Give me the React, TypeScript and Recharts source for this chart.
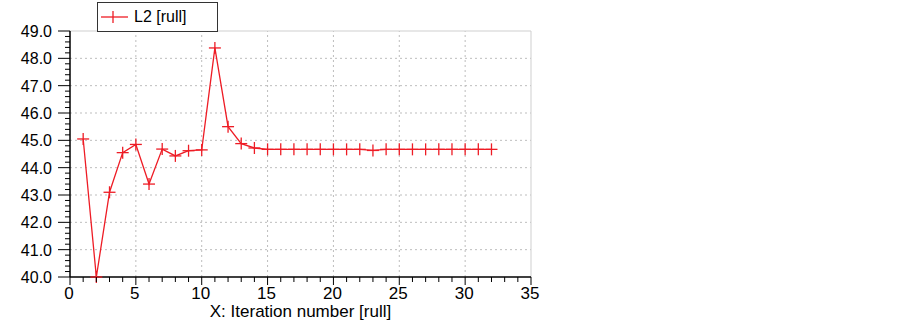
import React from 'react';
import { LineChart, Line, XAxis, YAxis, ReferenceLine } from 'recharts';

const iterations = [1,2,3,4,5,6,7,8,9,10,11,12,13,14,15,16,17,18,19,20,21,22,23,24,25,26,27,28,29,30,31,32];
const l2Values = [45.05,40.0,43.1,44.55,44.85,43.4,44.68,44.43,44.62,44.65,48.38,45.5,44.88,44.72,44.67,44.67,44.67,44.67,44.67,44.67,44.67,44.67,44.63,44.67,44.67,44.67,44.67,44.67,44.67,44.67,44.67,44.67];

const xMajorTicks = [0,5,10,15,20,25,30,35];
const yMajorTicks = [40,41,42,43,44,45,46,47,48,49];
const xGridValues = [5,10,15,20,25,30];
const yGridValues = [41,42,43,44,45,46,47,48];
const seriesName = 'L2 [rull]';
const xTitle = 'X: Iteration number [rull]';

const xMinorTicks = Array.from({ length: 36 }, (_, i) => i);
const yMinorTicks = Array.from({ length: 46 }, (_, i) => Math.round((40 + i * 0.2) * 10) / 10);

const data = iterations.map((it, i) => ({ it, l2: l2Values[i] }));

const FONT = 'Liberation Sans, Arial, sans-serif';
const RED = '#ee1c25';

const isMajor = (v: number, list: number[]) => list.some((m) => Math.abs(m - v) < 1e-6);

const XTick = (props: any) => {
  const { x, y, payload } = props;
  const major = isMajor(payload.value, xMajorTicks);
  return (
    <g>
      <line x1={x} x2={x} y1={y} y2={y + (major ? 8 : 5)} stroke="#000" strokeWidth={1} />
      {major && (
        <text x={x - 1} y={y + 22} textAnchor="middle" fontSize={17} fontFamily={FONT} fill="#000">
          {payload.value}
        </text>
      )}
    </g>
  );
};

const YTick = (props: any) => {
  const { x, y, payload } = props;
  const major = isMajor(payload.value, yMajorTicks);
  return (
    <g>
      <line x1={x} x2={x - (major ? 12 : 5)} y1={y} y2={y} stroke="#000" strokeWidth={1} />
      {major && (
        <text x={x - 18} y={y + 6} textAnchor="end" fontSize={16} fontFamily={FONT} fill="#000">
          {Number(payload.value).toFixed(1)}
        </text>
      )}
    </g>
  );
};

const XTitle = (props: any) => {
  const { viewBox } = props;
  const cx = viewBox.x + viewBox.width / 2;
  return (
    <text x={cx} y={317} textAnchor="middle" fontSize={17} fontFamily={FONT} fill="#000">
      {xTitle}
    </text>
  );
};

const PlusDot = (props: any) => {
  const { cx, cy } = props;
  if (cx == null || cy == null) return null;
  return (
    <g>
      <line x1={cx - 6} x2={cx + 6} y1={cy} y2={cy} stroke={RED} strokeWidth={1.3} />
      <line x1={cx} x2={cx} y1={cy - 6} y2={cy + 6} stroke={RED} strokeWidth={1.3} />
    </g>
  );
};

export default function App() {
  return (
    <div style={{ position: 'absolute', left: 0, top: 0, width: 903, height: 320, background: '#fff' }}>
      <LineChart
        width={903}
        height={320}
        data={data}
        margin={{ top: 31, right: 372, bottom: 0, left: 0 }}
      >
        {xGridValues.map((v) => (
          <ReferenceLine key={'gx' + v} x={v} stroke="#bdbdbd" strokeDasharray="2 3" />
        ))}
        {yGridValues.map((v) => (
          <ReferenceLine key={'gy' + v} y={v} stroke="#bdbdbd" strokeDasharray="2 3" />
        ))}
        <ReferenceLine y={49} stroke="#cfcfcf" />
        <ReferenceLine x={35} stroke="#cfcfcf" />
        <XAxis
          dataKey="it"
          type="number"
          domain={[0, 35]}
          ticks={xMinorTicks}
          interval={0}
          tickSize={0}
          tickMargin={0}
          tickLine={false}
          tick={<XTick />}
          height={43}
          axisLine={{ stroke: '#000', strokeWidth: 1.5 }}
          label={<XTitle />}
        />
        <YAxis
          type="number"
          domain={[40, 49]}
          ticks={yMinorTicks}
          interval={0}
          tickSize={0}
          tickMargin={0}
          tickLine={false}
          tick={<YTick />}
          width={70}
          axisLine={{ stroke: '#000', strokeWidth: 1.5 }}
        />
        <Line
          dataKey="l2"
          stroke={RED}
          strokeWidth={1.3}
          dot={<PlusDot />}
          activeDot={false}
          isAnimationActive={false}
          type="linear"
        />
      </LineChart>
      <div
        style={{
          position: 'absolute',
          left: 97,
          top: 2,
          width: 119,
          height: 28,
          border: '1px solid #333',
          background: '#fff',
          display: 'flex',
          alignItems: 'center',
          fontFamily: FONT,
          fontSize: 16,
          color: '#000',
          boxSizing: 'content-box',
        }}
      >
        <svg width={34} height={28} style={{ display: 'block' }}>
          <line x1={3} x2={30} y1={14} y2={14} stroke={RED} strokeWidth={1.3} />
          <line x1={15} x2={15} y1={8} y2={20} stroke={RED} strokeWidth={1.3} />
        </svg>
        <span style={{ marginLeft: 2 }}>{seriesName}</span>
      </div>
    </div>
  );
}
